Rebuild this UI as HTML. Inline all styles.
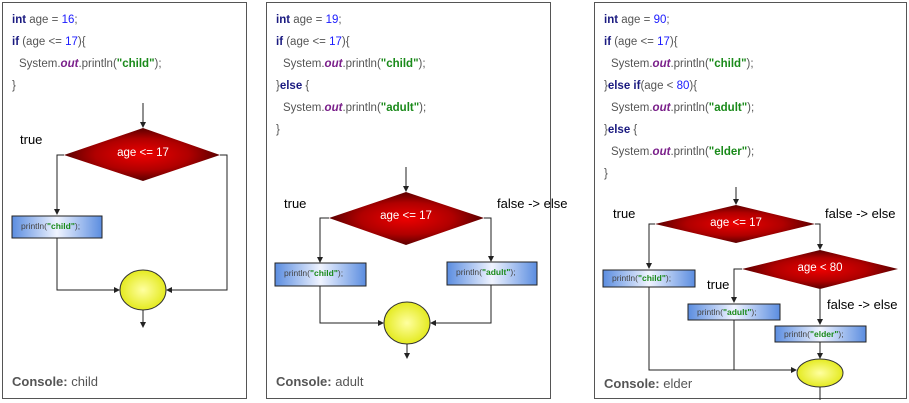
<!DOCTYPE html>
<html><head><meta charset="utf-8"><style>
html,body{margin:0;padding:0;background:#fff;}
svg{display:block;}
.c{font-family:"Liberation Sans",sans-serif;font-size:11.5px;fill:#555;}
.k{fill:#1a1a80;font-weight:bold;}
.n{fill:#1a1aff;}
.o{fill:#7a1f8a;font-weight:bold;font-style:italic;}
.s{fill:#1a8a1a;font-weight:bold;}
.con{font-family:"Liberation Sans",sans-serif;font-size:13px;fill:#555;}
.lbl{font-family:"Liberation Sans",sans-serif;font-size:13px;fill:#000;}
.dt{font-family:"Liberation Sans",sans-serif;font-size:11.5px;fill:#fff;text-anchor:middle;}
.bt{font-family:"Liberation Sans",sans-serif;font-size:8.5px;fill:#444;}
.l{stroke:#222;stroke-width:1;fill:none;}
</style></head><body>
<svg width="909" height="403" viewBox="0 0 909 403" xmlns="http://www.w3.org/2000/svg">
<defs>
<radialGradient id="rd" cx="50%" cy="50%" r="50%"><stop offset="0" stop-color="#ee0000"/><stop offset="0.6" stop-color="#b00000"/><stop offset="1" stop-color="#5a0000"/></radialGradient>
<linearGradient id="bl" x1="0" x2="1" y1="0" y2="0"><stop offset="0" stop-color="#5b8de0"/><stop offset="0.5" stop-color="#f0f4ff"/><stop offset="1" stop-color="#5b8de0"/></linearGradient>
<radialGradient id="yl" cx="50%" cy="50%" r="50%"><stop offset="0" stop-color="#ffffa0"/><stop offset="1" stop-color="#e4ea20"/></radialGradient>
<marker id="a" markerWidth="6" markerHeight="6" refX="5" refY="3" orient="auto"><path d="M0,0 L6,3 L0,6 Z" fill="#222"/></marker>
</defs>
<rect x="2.5" y="2.5" width="244" height="396" fill="#fff" stroke="#555"/>
<rect x="266.5" y="2.5" width="284" height="396" fill="#fff" stroke="#555"/>
<rect x="594.5" y="2.5" width="312" height="396" fill="#fff" stroke="#555"/>

<!-- Panel 1 -->
<text class="c" x="12" y="23"><tspan class="k">int</tspan> age = <tspan class="n">16</tspan>;</text>
<text class="c" x="12" y="45"><tspan class="k">if</tspan> (age &lt;= <tspan class="n">17</tspan>){</text>
<text class="c" x="19" y="67">System.<tspan class="o">out</tspan>.println(<tspan class="s">"child"</tspan>);</text>
<text class="c" x="12" y="89">}</text>
<line class="l" x1="143" y1="103" x2="143" y2="127" marker-end="url(#a)"/>
<polygon points="143,128 220,155 143,181 64,155" fill="url(#rd)"/>
<text class="dt" x="143" y="156">age &lt;= 17</text>
<text class="lbl" x="20" y="144">true</text>
<polyline class="l" points="64,155 57,155 57,214" marker-end="url(#a)"/>
<rect x="12" y="216" width="90" height="22" fill="url(#bl)" stroke="#222"/>
<text class="bt" x="21" y="229">println(<tspan class="s">"child"</tspan>);</text>
<polyline class="l" points="57,238 57,290 119,290" marker-end="url(#a)"/>
<polyline class="l" points="220,155 227,155 227,290 167,290" marker-end="url(#a)"/>
<ellipse cx="143" cy="290" rx="23" ry="20" fill="url(#yl)" stroke="#333"/>
<line class="l" x1="143" y1="310" x2="143" y2="327" marker-end="url(#a)"/>
<text class="con" x="12" y="386"><tspan font-weight="bold">Console:</tspan> child</text>

<!-- Panel 2 -->
<text class="c" x="276" y="23"><tspan class="k">int</tspan> age = <tspan class="n">19</tspan>;</text>
<text class="c" x="276" y="45"><tspan class="k">if</tspan> (age &lt;= <tspan class="n">17</tspan>){</text>
<text class="c" x="283" y="67">System.<tspan class="o">out</tspan>.println(<tspan class="s">"child"</tspan>);</text>
<text class="c" x="276" y="89">}<tspan class="k">else</tspan> {</text>
<text class="c" x="283" y="111">System.<tspan class="o">out</tspan>.println(<tspan class="s">"adult"</tspan>);</text>
<text class="c" x="276" y="133">}</text>
<line class="l" x1="406" y1="167" x2="406" y2="191" marker-end="url(#a)"/>
<polygon points="406,192 484,218 406,245 329,218" fill="url(#rd)"/>
<text class="dt" x="406" y="219">age &lt;= 17</text>
<text class="lbl" x="284" y="208">true</text>
<text class="lbl" x="497" y="208">false -&gt; else</text>
<polyline class="l" points="329,218 320,218 320,262" marker-end="url(#a)"/>
<polyline class="l" points="484,218 491,218 491,261" marker-end="url(#a)"/>
<rect x="275" y="263" width="91" height="23" fill="url(#bl)" stroke="#222"/>
<text class="bt" x="284" y="276">println(<tspan class="s">"child"</tspan>);</text>
<rect x="447" y="262" width="90" height="23" fill="url(#bl)" stroke="#222"/>
<text class="bt" x="456" y="275">println(<tspan class="s">"adult"</tspan>);</text>
<polyline class="l" points="320,286 320,323 383,323" marker-end="url(#a)"/>
<polyline class="l" points="491,285 491,323 431,323" marker-end="url(#a)"/>
<ellipse cx="407" cy="323" rx="23" ry="21" fill="url(#yl)" stroke="#333"/>
<line class="l" x1="407" y1="344" x2="407" y2="358" marker-end="url(#a)"/>
<text class="con" x="276" y="386"><tspan font-weight="bold">Console:</tspan> adult</text>

<!-- Panel 3 -->
<text class="c" x="604" y="23"><tspan class="k">int</tspan> age = <tspan class="n">90</tspan>;</text>
<text class="c" x="604" y="45"><tspan class="k">if</tspan> (age &lt;= <tspan class="n">17</tspan>){</text>
<text class="c" x="611" y="67">System.<tspan class="o">out</tspan>.println(<tspan class="s">"child"</tspan>);</text>
<text class="c" x="604" y="89">}<tspan class="k">else if</tspan>(age &lt; <tspan class="n">80</tspan>){</text>
<text class="c" x="611" y="111">System.<tspan class="o">out</tspan>.println(<tspan class="s">"adult"</tspan>);</text>
<text class="c" x="604" y="133">}<tspan class="k">else</tspan> {</text>
<text class="c" x="611" y="155">System.<tspan class="o">out</tspan>.println(<tspan class="s">"elder"</tspan>);</text>
<text class="c" x="604" y="177">}</text>
<line class="l" x1="736" y1="187" x2="736" y2="204" marker-end="url(#a)"/>
<polygon points="736,205 815,224 736,243 655,224" fill="url(#rd)"/>
<text class="dt" x="736" y="226">age &lt;= 17</text>
<text class="lbl" x="613" y="218">true</text>
<text class="lbl" x="825" y="218">false -&gt; else</text>
<polyline class="l" points="655,224 649,224 649,268" marker-end="url(#a)"/>
<rect x="603" y="270" width="92" height="17" fill="url(#bl)" stroke="#222"/>
<text class="bt" x="612" y="281">println(<tspan class="s">"child"</tspan>);</text>
<polyline class="l" points="815,224 820,224 820,249" marker-end="url(#a)"/>
<polygon points="820,250 898,269 820,289 742,269" fill="url(#rd)"/>
<text class="dt" x="820" y="271">age &lt; 80</text>
<text class="lbl" x="707" y="289">true</text>
<text class="lbl" x="827" y="309">false -&gt; else</text>
<polyline class="l" points="742,269 734,269 734,302" marker-end="url(#a)"/>
<rect x="688" y="304" width="92" height="16" fill="url(#bl)" stroke="#222"/>
<text class="bt" x="697" y="315">println(<tspan class="s">"adult"</tspan>);</text>
<line class="l" x1="820" y1="289" x2="820" y2="324" marker-end="url(#a)"/>
<rect x="775" y="326" width="91" height="16" fill="url(#bl)" stroke="#222"/>
<text class="bt" x="784" y="337">println(<tspan class="s">"elder"</tspan>);</text>
<line class="l" x1="820" y1="342" x2="820" y2="358" marker-end="url(#a)"/>
<polyline class="l" points="649,287 649,370 796,370" marker-end="url(#a)"/>
<line class="l" x1="734" y1="320" x2="734" y2="370"/>
<ellipse cx="820" cy="373" rx="23" ry="14" fill="url(#yl)" stroke="#333"/>
<line class="l" x1="820" y1="387" x2="820" y2="400"/>
<text class="con" x="604" y="388"><tspan font-weight="bold">Console:</tspan> elder</text>
</svg>
</body></html>
